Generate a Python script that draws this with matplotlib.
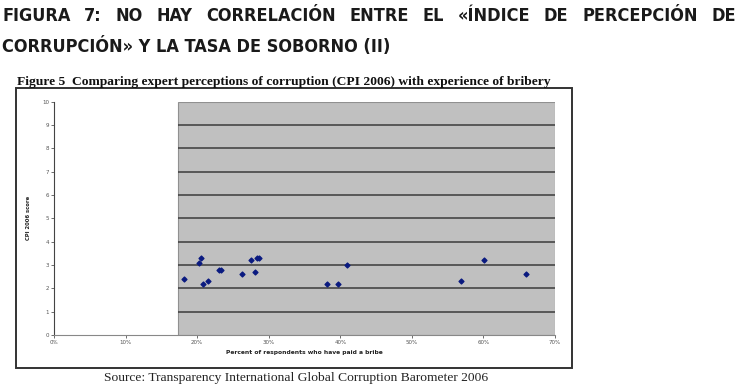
import matplotlib
matplotlib.use("Agg")
import matplotlib.pyplot as plt
from matplotlib.patches import Rectangle

# data
bribe_pct = [18.1, 20.3, 20.5, 20.8, 21.5, 23.1, 23.3, 26.3, 27.5, 28.1,
             28.4, 28.6, 38.2, 39.7, 41.0, 56.8, 60.1, 65.9]
cpi_score = [2.4, 3.1, 3.3, 2.2, 2.3, 2.8, 2.8, 2.6, 3.2, 2.7,
             3.3, 3.3, 2.2, 2.2, 3.0, 2.3, 3.2, 2.6]
x_ticks = [0, 10, 20, 30, 40, 50, 60, 70]
x_tick_labels = ["0%", "10%", "20%", "30%", "40%", "50%", "60%", "70%"]
y_ticks = list(range(0, 11))
shade_start = 17.3  # where the grey plot area begins

heading_1 = "FIGURA 7: NO HAY CORRELACIÓN ENTRE EL «ÍNDICE DE PERCEPCIÓN DE"
heading_2 = "CORRUPCIÓN» Y LA TASA DE SOBORNO (II)"
fig_title = "Figure 5  Comparing expert perceptions of corruption (CPI 2006) with experience of bribery"
source = "Source: Transparency International Global Corruption Barometer 2006"

W, H = 742, 388
fig = plt.figure(figsize=(W / 100, H / 100), dpi=100)

def fx(px):
    return px / W

def fy(py):
    return 1 - py / H

renderer = fig.canvas.get_renderer()
head_font = dict(family="DejaVu Sans", stretch="condensed", weight="bold",
                 fontsize=14, color="#1a1a1a", va="baseline")

# size the heading so the second line is as wide as in the original (2..392 px)
probe = fig.text(0, 0, heading_2, **head_font)
head_font["fontsize"] = 14 * 390 / probe.get_window_extent(renderer).width
probe.remove()

# justified first heading line: measure words, spread the gaps
words = heading_1.split()
texts = [fig.text(0, 0, w, **head_font) for w in words]
widths = [t.get_window_extent(renderer).width for t in texts]
left, right = 2, 736
gap = (right - left - sum(widths)) / (len(words) - 1)
x = left
for t, w in zip(texts, widths):
    t.set_position((fx(x), fy(21)))
    x += w + gap
fig.text(fx(2), fy(52), heading_2, **head_font)

# the scanned figure
fig.text(fx(17), fy(85), fig_title, family="Liberation Serif", weight="bold",
         fontsize=9.7, color="#111111", va="baseline")
fig.patches.append(Rectangle((fx(16), fy(368)), fx(572 - 16), (368 - 88) / H,
                             transform=fig.transFigure, fill=False,
                             edgecolor="#333333", linewidth=1.4))
fig.text(fx(296), fy(381), source, family="Liberation Serif", fontsize=9.7,
         color="#222222", ha="center", va="baseline")

ax = fig.add_axes([fx(54), fy(335), fx(555 - 54), (335 - 101.5) / H])
ax.set_xlim(0, 70)
ax.set_ylim(0, 10)
ax.add_patch(Rectangle((shade_start, 0), 70 - shade_start, 10, facecolor="#c0c0c0",
                       edgecolor="#909090", linewidth=0.8, zorder=0))
ax.hlines(y_ticks[1:-1], shade_start, 70, color="#3c3c3c", linewidth=1.1, zorder=1)
ax.scatter(bribe_pct, cpi_score, s=6, marker="D", color="#0a1a80", zorder=3)

ax.set_xticks(x_ticks)
ax.set_xticklabels(x_tick_labels)
ax.set_yticks(y_ticks)
ax.tick_params(labelsize=4, colors="#555555", length=2, width=0.6, pad=1.5)
for s in ["top", "right"]:
    ax.spines[s].set_visible(False)
ax.spines["left"].set_color("#444444")
ax.spines["bottom"].set_color("#888888")
ax.spines["left"].set_linewidth(0.8)
ax.spines["bottom"].set_linewidth(0.8)

ax.set_xlabel("Percent of respondents who have paid a bribe", fontsize=4.3,
              weight="bold", color="#222222", labelpad=4)
ax.set_ylabel("CPI 2006 score", fontsize=3.8, weight="bold", color="#222222", labelpad=8)

fig.savefig("out.png", dpi=100)
